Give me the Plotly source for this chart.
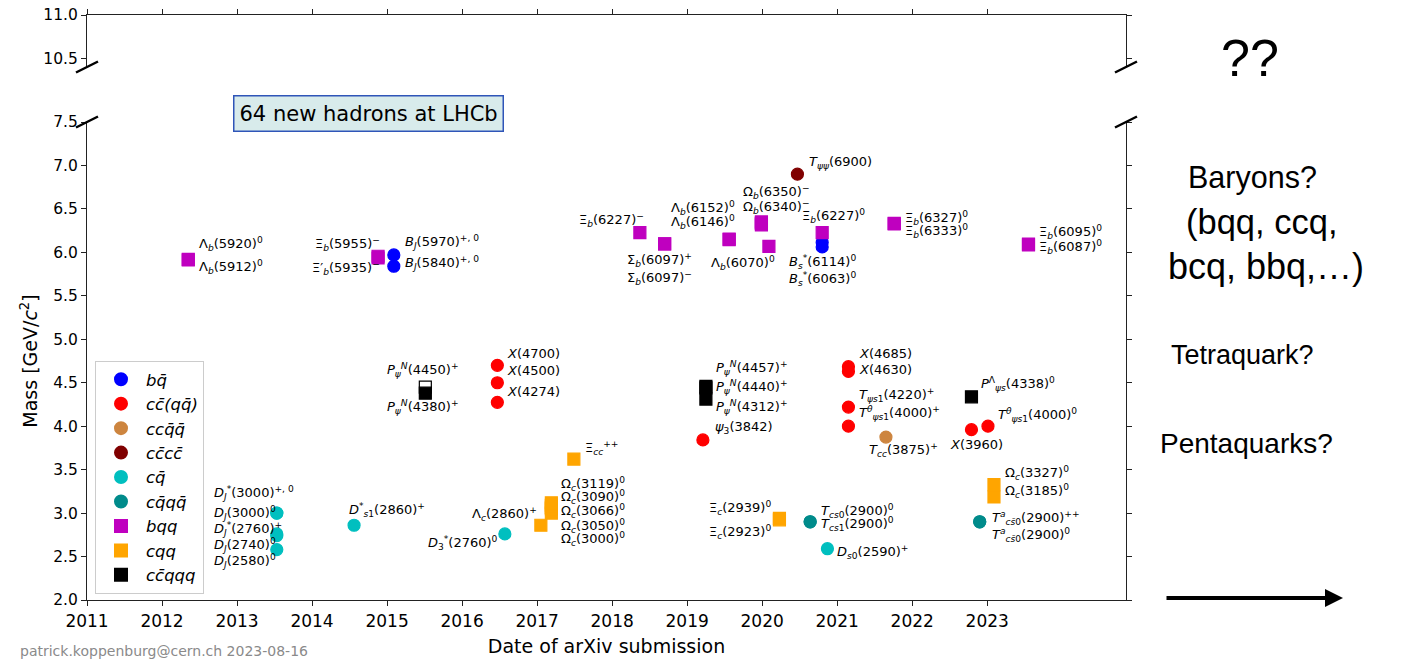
import plotly.graph_objects as go

# ---------------------------------------------------------------------------
# Hadrons discovered at LHCb: date of arXiv submission (decimal year), mass (GeV)
# ---------------------------------------------------------------------------
bq_names = ["BJ(5970)", "BJ(5840)", "Bs*(6114)", "Bs*(6063)"]
bq_year = [2015.09, 2015.09, 2020.80, 2020.80]
bq_mass = [5.970, 5.840, 6.114, 6.063]

ccqq_names = ["X(4274)", "X(4500)", "X(4700)", "psi3(3842)", "X(4630)", "X(4685)",
              "Tpsis1(4220)+", "Tpsis1(4000)+", "X(3960)", "Tpsis1(4000)0"]
ccqq_year = [2016.47, 2016.47, 2016.47, 2019.21, 2021.15, 2021.15,
             2021.15, 2021.15, 2022.79, 2023.01]
ccqq_mass = [4.274, 4.500, 4.700, 3.842, 4.630, 4.685,
             4.220, 4.000, 3.960, 4.000]

tcc_names = ["Tcc(3875)+"]
tcc_year = [2021.65]
tcc_mass = [3.875]

tpsipsi_names = ["Tpsipsi(6900)"]
tpsipsi_year = [2020.47]
tpsipsi_mass = [6.900]

cq_names = ["DJ*(3000)", "DJ(3000)", "DJ*(2760)+", "DJ(2740)", "DJ(2580)",
            "Ds1*(2860)+", "D3*(2760)", "Ds0(2590)+"]
cq_year = [2013.53, 2013.53, 2013.53, 2013.53, 2013.53, 2014.56, 2016.57, 2020.87]
cq_mass = [3.000, 3.000, 2.760, 2.740, 2.580, 2.860, 2.760, 2.590]

cqqq_names = ["Tcs0(2900)0", "Tcs1(2900)0", "Tacs0(2900)++", "Tacs0(2900)0"]
cqqq_year = [2020.64, 2020.64, 2022.90, 2022.90]
cqqq_mass = [2.900, 2.900, 2.900, 2.900]

bqq_names = ["Lb(5920)", "Lb(5912)", "Xib(5955)-", "Xib'(5935)-", "Xib(6227)-",
             "Sb(6097)+", "Sb(6097)-", "Lb(6152)", "Lb(6146)",
             "Ob(6350)", "Ob(6340)", "Ob(6330)", "Ob(6316)", "Lb(6070)",
             "Xib(6227)0", "Xib(6327)", "Xib(6333)", "Xib(6095)", "Xib(6087)"]
bqq_year = [2012.35, 2012.35, 2014.88, 2014.88, 2018.37,
            2018.70, 2018.70, 2019.56, 2019.56,
            2019.99, 2019.99, 2019.99, 2019.99, 2020.09,
            2020.80, 2021.76, 2021.76, 2023.55, 2023.55]
bqq_mass = [5.920, 5.912, 5.955, 5.935, 6.227,
            6.097, 6.097, 6.152, 6.146,
            6.350, 6.340, 6.330, 6.316, 6.070,
            6.227, 6.327, 6.333, 6.095, 6.087]

cqq_names = ["Xicc++", "Lc(2860)+", "Oc(3000)", "Oc(3050)", "Oc(3066)", "Oc(3090)",
             "Oc(3119)", "Xic(2923)", "Xic(2939)", "Oc(3185)", "Oc(3327)"]
cqq_year = [2017.49, 2017.05, 2017.19, 2017.19, 2017.19, 2017.19,
            2017.19, 2020.23, 2020.23, 2023.09, 2023.09]
cqq_mass = [3.621, 2.860, 3.000, 3.050, 3.066, 3.090,
            3.119, 2.923, 2.939, 3.185, 3.327]

pc_names = ["Pc(4312)+", "Pc(4440)+", "Pc(4457)+", "Pc(4450)+", "Pc(4380)+", "Pcs(4338)0"]
pc_year = [2019.25, 2019.25, 2019.25, 2015.51, 2015.51, 2022.79]
pc_mass = [4.312, 4.440, 4.457, 4.450, 4.380, 4.338]

# states later resolved into narrower structures are drawn open
superseded = ["Pc(4450)+"]

year_ticks = [2011, 2012, 2013, 2014, 2015, 2016, 2017, 2018, 2019, 2020, 2021, 2022, 2023]
mass_ticks = [2.0, 2.5, 3.0, 3.5, 4.0, 4.5, 5.0, 5.5, 6.0, 6.5, 7.0, 7.5]
mass_ticks_high = [10.5, 11.0]

# ---------------------------------------------------------------------------
# Styling
# ---------------------------------------------------------------------------
W, H = 1409, 659
FONT = "DejaVu Sans"
SLIDE_FONT = "Liberation Sans"


def fx(p):
    return p / W


def fy(p):
    return 1 - p / H


groups = [
    ("<i>bq̄</i>", bq_names, bq_year, bq_mass, "#0000ff", "circle"),
    ("<i>cc̄(qq̄)</i>", ccqq_names, ccqq_year, ccqq_mass, "#ff0000", "circle"),
    ("<i>ccq̄q̄</i>", tcc_names, tcc_year, tcc_mass, "#cd853f", "circle"),
    ("<i>cc̄cc̄</i>", tpsipsi_names, tpsipsi_year, tpsipsi_mass, "#800000", "circle"),
    ("<i>cq̄</i>", cq_names, cq_year, cq_mass, "#00bfbf", "circle"),
    ("<i>cq̄qq̄</i>", cqqq_names, cqqq_year, cqqq_mass, "#008b8b", "circle"),
    ("<i>bqq</i>", bqq_names, bqq_year, bqq_mass, "#bf00bf", "square"),
    ("<i>cqq</i>", cqq_names, cqq_year, cqq_mass, "#ffa500", "square"),
    ("<i>cc̄qqq</i>", pc_names, pc_year, pc_mass, "#000000", "square"),
]

fig = go.Figure()
position = {}
for label, names, years, masses, color, symbol in groups:
    faces = ["#ffffff" if n in superseded else color for n in names]
    edges = ["#000000" if n in superseded else color for n in names]
    for n, yr, m in zip(names, years, masses):
        position[n] = (yr, m)
    fig.add_trace(go.Scatter(
        x=years, y=masses, mode="markers", name=label, text=names,
        marker=dict(size=12, symbol=symbol, color=faces,
                    line=dict(color=edges, width=1.2)),
        xaxis="x", yaxis="y",
    ))

# empty trace to realise the upper (broken) panel
fig.add_trace(go.Scatter(x=[], y=[], xaxis="x2", yaxis="y2", showlegend=False))

# ---------------------------------------------------------------------------
# Hadron name labels: (hadron, text, anchor, x shift px, y shift px)
# ---------------------------------------------------------------------------
sub = lambda s: "<sub>" + s + "</sub>"
sup = lambda s: "<sup>" + s + "</sup>"
it = lambda s: "<i>" + s + "</i>"

labels = [
    ("Lb(5920)", "Λ" + sub(it("b")) + "(5920)" + sup("0"), "left", 9, 15),
    ("Lb(5912)", "Λ" + sub(it("b")) + "(5912)" + sup("0"), "left", 9, -7),
    ("Xib(5955)-", "Ξ" + sub(it("b")) + "(5955)" + sup("−"), "right", 4, 12),
    ("Xib'(5935)-", "Ξ′" + sub(it("b")) + "(5935)" + sup("−"), "right", 4, -10),
    ("BJ(5970)", it("B") + sub(it("J")) + "(5970)" + sup("+, 0"), "left", 9, 13),
    ("BJ(5840)", it("B") + sub(it("J")) + "(5840)" + sup("+, 0"), "left", 9, 3),
    ("DJ*(3000)", it("D") + sub(it("J")) + sup("*") + "(3000)" + sup("+, 0"), "left", -65, 20),
    ("DJ(3000)", it("D") + sub(it("J")) + "(3000)" + sup("0"), "left", -65, 0),
    ("DJ*(2760)+", it("D") + sub(it("J")) + sup("*") + "(2760)" + sup("+"), "left", -65, 5),
    ("DJ(2740)", it("D") + sub(it("J")) + "(2740)" + sup("0"), "left", -65, -9),
    ("DJ(2580)", it("D") + sub(it("J")) + "(2580)" + sup("0"), "left", -65, -11),
    ("Ds1*(2860)+", it("D") + sup("*") + sub(it("s") + "1") + "(2860)" + sup("+"), "left", -7, 15),
    ("Pc(4450)+", it("P") + sub(it("ψ")) + sup(it("N")) + "(4450)" + sup("+"), "left", -40, 17),
    ("Pc(4380)+", it("P") + sub(it("ψ")) + sup(it("N")) + "(4380)" + sup("+"), "left", -40, -14),
    ("X(4700)", it("X") + "(4700)", "left", 8, 12),
    ("X(4500)", it("X") + "(4500)", "left", 8, 12),
    ("X(4274)", it("X") + "(4274)", "left", 8, 11),
    ("Lc(2860)+", "Λ" + sub(it("c")) + "(2860)" + sup("+"), "right", -2, 11),
    ("D3*(2760)", it("D") + sub("3") + sup("*") + "(2760)" + sup("0"), "right", -5, -9),
    ("Xicc++", "Ξ" + sub(it("cc")) + sup("++"), "left", 9, 11),
    ("Oc(3119)", "Ω" + sub(it("c")) + "(3119)" + sup("0"), "left", 8, 19),
    ("Oc(3090)", "Ω" + sub(it("c")) + "(3090)" + sup("0"), "left", 8, 8),
    ("Oc(3066)", "Ω" + sub(it("c")) + "(3066)" + sup("0"), "left", 8, -4),
    ("Oc(3050)", "Ω" + sub(it("c")) + "(3050)" + sup("0"), "left", 8, -17),
    ("Oc(3000)", "Ω" + sub(it("c")) + "(3000)" + sup("0"), "left", 8, -26),
    ("Xib(6227)-", "Ξ" + sub(it("b")) + "(6227)" + sup("−"), "right", 6, 13),
    ("Sb(6097)+", "Σ" + sub(it("b")) + "(6097)" + sup("+"), "left", -40, -16),
    ("Sb(6097)-", "Σ" + sub(it("b")) + "(6097)" + sup("−"), "left", -40, -34),
    ("Lb(6152)", "Λ" + sub(it("b")) + "(6152)" + sup("0"), "right", 8, 31),
    ("Lb(6146)", "Λ" + sub(it("b")) + "(6146)" + sup("0"), "right", 8, 18),
    ("Ob(6350)", "Ω" + sub(it("b")) + "(6350)" + sup("−"), "left", -20, 30),
    ("Ob(6340)", "Ω" + sub(it("b")) + "(6340)" + sup("−"), "left", -20, 16),
    ("Lb(6070)", "Λ" + sub(it("b")) + "(6070)" + sup("0"), "right", 8, -17),
    ("Tpsipsi(6900)", it("T") + sub(it("ψψ")) + "(6900)", "left", 10, 12),
    ("Xib(6227)0", "Ξ" + sub(it("b")) + "(6227)" + sup("0"), "left", -22, 17),
    ("Bs*(6114)", it("B") + sub(it("s")) + sup("*") + "(6114)" + sup("0"), "left", -35, -20),
    ("Bs*(6063)", it("B") + sub(it("s")) + sup("*") + "(6063)" + sup("0"), "left", -35, -32),
    ("Xib(6327)", "Ξ" + sub(it("b")) + "(6327)" + sup("0"), "left", 9, 6),
    ("Xib(6333)", "Ξ" + sub(it("b")) + "(6333)" + sup("0"), "left", 9, -8),
    ("Xib(6095)", "Ξ" + sub(it("b")) + "(6095)" + sup("0"), "left", 9, 12),
    ("Xib(6087)", "Ξ" + sub(it("b")) + "(6087)" + sup("0"), "left", 9, -2),
    ("Pc(4457)+", it("P") + sub(it("ψ")) + sup(it("N")) + "(4457)" + sup("+"), "left", 8, 18),
    ("Pc(4440)+", it("P") + sub(it("ψ")) + sup(it("N")) + "(4440)" + sup("+"), "left", 8, 1),
    ("Pc(4312)+", it("P") + sub(it("ψ")) + sup(it("N")) + "(4312)" + sup("+"), "left", 8, -8),
    ("psi3(3842)", it("ψ") + sub("3") + "(3842)", "left", 10, 12),
    ("X(4685)", it("X") + "(4685)", "left", 9, 13),
    ("X(4630)", it("X") + "(4630)", "left", 9, 2),
    ("Tpsis1(4220)+", it("T") + sub(it("ψs") + "1") + "(4220)" + sup("+"), "left", 9, 12),
    ("Tpsis1(4000)+", it("T") + sup(it("θ")) + sub(it("ψs") + "1") + "(4000)" + sup("+"), "left", 9, 13),
    ("Tcc(3875)+", it("T") + sub(it("cc")) + "(3875)" + sup("+"), "left", -19, -13),
    ("Pcs(4338)0", it("P") + sup("Λ") + sub(it("ψs")) + "(4338)" + sup("0"), "left", 8, 13),
    ("X(3960)", it("X") + "(3960)", "center", 5, -15),
    ("Tpsis1(4000)0", it("T") + sup(it("θ")) + sub(it("ψs") + "1") + "(4000)" + sup("0"), "left", 8, 11),
    ("Oc(3327)", "Ω" + sub(it("c")) + "(3327)" + sup("0"), "left", 9, 12),
    ("Oc(3185)", "Ω" + sub(it("c")) + "(3185)" + sup("0"), "left", 9, 6),
    ("Tacs0(2900)++", it("T") + sup(it("a")) + sub(it("cs̄") + "0") + "(2900)" + sup("++"), "left", 10, 4),
    ("Tacs0(2900)0", it("T") + sup(it("a")) + sub(it("cs̄") + "0") + "(2900)" + sup("0"), "left", 10, -13),
    ("Xic(2939)", "Ξ" + sub(it("c")) + "(2939)" + sup("0"), "right", -6, 10),
    ("Xic(2923)", "Ξ" + sub(it("c")) + "(2923)" + sup("0"), "right", -6, -12),
    ("Tcs0(2900)0", it("T") + sub(it("cs") + "0") + "(2900)" + sup("0"), "left", 9, 11),
    ("Tcs1(2900)0", it("T") + sub(it("cs") + "1") + "(2900)" + sup("0"), "left", 9, -2),
    ("Ds0(2590)+", it("D") + sub(it("s") + "0") + "(2590)" + sup("+"), "left", 8, -3),
]

annotations = []
for key, text, anchor, dx, dy in labels:
    xv, yv = position[key]
    annotations.append(dict(
        x=xv, y=yv, xref="x", yref="y", text=text, showarrow=False,
        xanchor=anchor, yanchor="middle", xshift=dx, yshift=dy,
        font=dict(family=FONT, size=13, color="black"),
    ))

# headline box
annotations.append(dict(
    x=fx(368), y=fy(113), xref="paper", yref="paper", text="64 new hadrons at LHCb",
    showarrow=False, xanchor="center", yanchor="middle",
    font=dict(family=FONT, size=21, color="black"),
    bgcolor="#d8ebeb", bordercolor="#2f55b8", borderwidth=1.5, borderpad=5,
))

# outlook text on the right
for text, cx, cy, size in [
    ("??", 1250, 58, 52),
    ("Baryons?", 1252, 178, 30.5),
    ("(bqq, ccq,", 1262, 222, 34.5),
    ("bcq, bbq,…)", 1266, 266, 36),
    ("Tetraquark?", 1242, 355, 27),
    ("Pentaquarks?", 1246, 443, 28),
]:
    annotations.append(dict(
        x=fx(cx), y=fy(cy), xref="paper", yref="paper", text=text, showarrow=False,
        xanchor="center", yanchor="middle",
        font=dict(family=SLIDE_FONT, size=size, color="black"),
    ))

# arrow pointing to the future
annotations.append(dict(
    x=fx(1343), y=fy(598), xref="paper", yref="paper", text="", showarrow=True,
    ax=-178, ay=0, axref="pixel", ayref="pixel",
    arrowhead=2, arrowsize=0.9, arrowwidth=4, arrowcolor="black", standoff=0,
))

# author stamp
annotations.append(dict(
    x=fx(18), y=fy(651), xref="paper", yref="paper",
    text="patrick.koppenburg@cern.ch 2023-08-16", showarrow=False,
    xanchor="left", yanchor="middle",
    font=dict(family=FONT, size=14, color="#8a8a8a"),
))

# diagonal break marks on both sides of the gap between the panels
shapes = []
for cx in (87, 1126):
    for cy in (67, 122):
        shapes.append(dict(
            type="line", xref="paper", yref="paper",
            x0=fx(cx - 11), y0=fy(cy + 5.5), x1=fx(cx + 11), y1=fy(cy - 5.5),
            line=dict(color="black", width=2.5),
        ))

X_RANGE = [2011, 2024.85]
axis_common = dict(showgrid=False, zeroline=False, showline=True, linecolor="#222222",
                   linewidth=1.2, ticks="outside", ticklen=5, tickwidth=1.1,
                   tickcolor="#222222", automargin=False)

fig.update_layout(
    width=W, height=H, autosize=False,
    margin=dict(l=0, r=0, t=0, b=0),
    paper_bgcolor="white", plot_bgcolor="white",
    font=dict(family=FONT, color="black"),
    xaxis=dict(
        domain=[fx(87), fx(1126)], range=X_RANGE, anchor="y",
        tickvals=year_ticks, ticktext=[str(v) for v in year_ticks],
        tickfont=dict(size=17),
        title=dict(text="Date of arXiv submission", font=dict(size=19), standoff=10),
        **axis_common,
    ),
    yaxis=dict(
        domain=[fy(600), fy(122)], range=[2.0, 7.5], anchor="x",
        tickvals=mass_ticks, ticktext=[f"{v:.1f}" for v in mass_ticks],
        tickfont=dict(size=15.5), mirror="ticks",
        title=dict(text="Mass [GeV/<i>c</i><sup>2</sup>]", font=dict(size=19), standoff=10),
        **axis_common,
    ),
    xaxis2=dict(
        domain=[fx(87), fx(1126)], range=X_RANGE, anchor="y2", side="top",
        tickvals=year_ticks, showticklabels=False,
        **axis_common,
    ),
    yaxis2=dict(
        domain=[fy(67), fy(15)], range=[10.4, 11.0], anchor="x2",
        tickvals=mass_ticks_high, ticktext=[f"{v:.1f}" for v in mass_ticks_high],
        tickfont=dict(size=15.5), mirror="ticks",
        **axis_common,
    ),
    legend=dict(
        x=fx(95), y=fy(361), xanchor="left", yanchor="top",
        bgcolor="white", bordercolor="#cccccc", borderwidth=1,
        font=dict(family=FONT, size=16.5), itemwidth=40, itemsizing="constant",
        traceorder="normal",
    ),
    annotations=annotations,
    shapes=shapes,
)

fig.write_html("out.html")
